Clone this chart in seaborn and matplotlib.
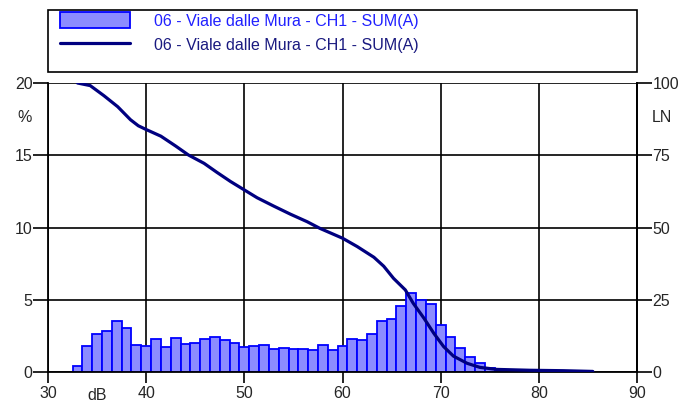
import matplotlib
matplotlib.use("Agg")
import matplotlib.pyplot as plt
import seaborn as sns
import numpy as np
import pandas as pd
from matplotlib.patches import Patch, Rectangle
from matplotlib.lines import Line2D

# ---- data ----
levels_db = list(range(33, 77))
dist_pct = [0.39, 1.78, 2.66, 2.87, 3.54, 3.03, 1.90, 1.78, 2.25, 1.74,
            2.38, 1.92, 1.99, 2.25, 2.45, 2.20, 2.01, 1.71, 1.80, 1.86,
            1.60, 1.67, 1.57, 1.62, 1.55, 1.85, 1.53, 1.83, 2.25, 2.22,
            2.62, 3.52, 3.70, 4.56, 5.49, 4.98, 4.68, 3.26, 2.43, 1.65,
            1.07, 0.60, 0.30, 0.14]

ln_db = [33.0, 34.3, 35.7, 37.1, 38.4, 39.2, 40.0, 41.5, 43.0, 44.3, 45.9,
         47.2, 48.6, 50.0, 51.3, 53.0, 54.7, 56.4, 57.7, 60.0, 61.5, 63.2,
         64.2, 65.2, 66.4, 67.2, 68.3, 69.3, 70.3, 71.3, 72.7, 74.0, 75.7,
         79.1, 82.5, 85.5]
ln_val = [100.0, 99.1, 95.6, 91.8, 87.3, 85.2, 83.9, 81.6, 78.2, 75.1, 72.2,
          69.1, 65.9, 63.0, 60.3, 57.4, 54.6, 52.0, 49.7, 46.3, 43.4, 39.7,
          36.6, 32.4, 28.4, 23.8, 18.6, 13.4, 8.8, 5.5, 3.0, 1.6, 0.9,
          0.6, 0.45, 0.2]

x_ticks = [30, 40, 50, 60, 70, 80, 90]
y_ticks = [0, 5, 10, 15, 20]
ln_ticks = [0, 25, 50, 75, 100]
series_label = "06 - Viale dalle Mura - CH1 - SUM(A)"

# ---- style ----
sns.set_theme(style="white")
plt.rcParams["font.family"] = ["Liberation Sans", "DejaVu Sans"]
plt.rcParams["font.size"] = 11

bar_face = "#8c8cff"
bar_edge = "#0000ff"
line_col = "#000080"
tick_fs = 11.5

W, H = 695, 405
fig = plt.figure(figsize=(W / 100, H / 100), dpi=100)
ax = fig.add_axes([48 / W, 1 - 372 / H, (637 - 48) / W, (372 - 83) / H])

hist_df = pd.DataFrame({"level": levels_db, "pct": dist_pct})
sns.histplot(data=hist_df, x="level", weights="pct",
             binwidth=1.0, binrange=(32.5, 76.5), ax=ax,
             color=bar_face, edgecolor=bar_edge, linewidth=1.3, alpha=1.0)

ax.set_xlim(30, 90)
ax.set_ylim(0, 20)
ax.set_xticks(x_ticks)
ax.set_yticks(y_ticks)
ax.set_xlabel("")
ax.set_ylabel("")
ax.set_axisbelow(True)
ax.grid(True, color="black", linewidth=1.2)
for s in ["left", "right", "bottom"]:
    ax.spines[s].set_visible(True)
    ax.spines[s].set_color("black")
    ax.spines[s].set_linewidth(1.3)
ax.spines["top"].set_visible(False)
ax.tick_params(axis="x", direction="out", length=8, width=1.2,
               color="black", pad=2, labelsize=tick_fs, bottom=True)
ax.tick_params(axis="y", direction="out", length=11, width=1.2,
               color="black", pad=0, labelsize=tick_fs, left=True)

ax2 = ax.twinx()
line_df = pd.DataFrame({"level": ln_db, "ln": ln_val})
sns.lineplot(data=line_df, x="level", y="ln", ax=ax2, color=line_col,
             linewidth=2.3, sort=False)
ax2.set_ylim(0, 100)
ax2.set_xlim(30, 90)
ax2.set_yticks(ln_ticks)
ax2.set_ylabel("")
ax2.set_xlabel("")
ax2.grid(False)
for s in ["left", "top", "bottom"]:
    ax2.spines[s].set_visible(False)
ax2.spines["right"].set_visible(True)
ax2.spines["right"].set_color("black")
ax2.spines["right"].set_linewidth(1.3)
ax2.tick_params(axis="y", direction="out", length=11, width=1.2,
                color="black", pad=0, labelsize=tick_fs, right=True)

fig.text(25 / W, 1 - 118 / H, "%", ha="center", va="center", fontsize=tick_fs)
fig.text(662 / W, 1 - 118 / H, "LN", ha="center", va="center", fontsize=tick_fs)
fig.text(97 / W, 1 - 396 / H, "dB", ha="center", va="center", fontsize=tick_fs)

# legend frame + entries
fig.patches.append(Rectangle((48 / W, 1 - 72 / H), (637 - 48) / W, 62 / H,
                             transform=fig.transFigure, fill=False,
                             edgecolor="black", linewidth=1.2))
handles = [Patch(facecolor=bar_face, edgecolor=bar_edge, linewidth=1.3),
           Line2D([0], [0], color=line_col, linewidth=2.3)]
fig.legend(handles, [series_label, series_label], loc="upper left",
           bbox_to_anchor=(60 / W, 1 - 12.5 / H), frameon=False,
           borderaxespad=0, borderpad=0,
           handlelength=4.4, handleheight=1.1, handletextpad=1.5,
           labelspacing=0.5, fontsize=11.5,
           labelcolor=["#2020ff", "#1a1a80"])

fig.savefig("out.png", dpi=100)
